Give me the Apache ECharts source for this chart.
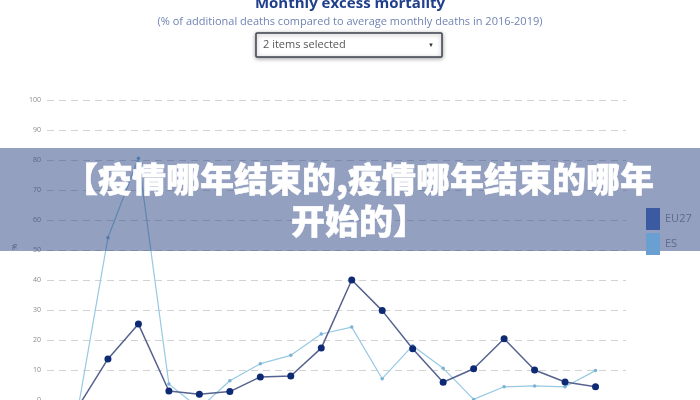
<!DOCTYPE html>
<html>
<head>
<meta charset="utf-8">
<script src="https://cdn.jsdelivr.net/npm/echarts@6/dist/echarts.min.js"></script>
<style>
html,body{margin:0;padding:0;background:#fff;}
#c{width:700px;height:400px;}
</style>
</head>
<body>
<div id="c"></div>
<script>
var months = ['Jan 2020','Feb 2020','Mar 2020','Apr 2020','May 2020','Jun 2020','Jul 2020','Aug 2020','Sep 2020','Oct 2020','Nov 2020','Dec 2020',
  'Jan 2021','Feb 2021','Mar 2021','Apr 2021','May 2021','Jun 2021','Jul 2021','Aug 2021'];
var eu27 = [-2.0, -2.6, 13.7, 25.3, 3.0, 1.9, 2.8, 7.7, 8.0, 17.3, 40.0, 29.8, 17.1, 5.9, 10.4, 20.4, 10.0, 6.0, 4.4];
var es = [-3.5, -4.0, 54.1, 80.6, 5.3, -2.8, 6.4, 12.1, 14.9, 22.0, 24.3, 7.1, 18.1, 10.6, 0.2, 4.4, 4.7, 4.4, 9.8];
var yTicks = [-10, 100, 10];
var titleText = 'Monthly excess mortality';
var subText = '(% of additional deaths compared to average monthly deaths in 2016-2019)';
var dropdownText = '2 items selected';
var bannerText = '【疫情哪年结束的,疫情哪年结束的哪年\n开始的】';

var chart = echarts.init(document.getElementById('c'), null, {renderer:'canvas'});
chart.setOption({
  animation: false,
  backgroundColor: '#ffffff',
  title: {
    text: titleText,
    subtext: subText,
    left: 'center',
    top: -4,
    padding: 0,
    itemGap: 3,
    textStyle: {fontFamily: 'Open Sans', fontWeight: 'bold', fontSize: 15, color: '#1f3f8c', lineHeight: 16},
    subtextStyle: {fontFamily: 'Open Sans', fontSize: 11, color: '#6f84b3', lineHeight: 14}
  },
  legend: {
    orient: 'vertical',
    left: 641,
    top: 203,
    icon: 'rect',
    itemWidth: 14,
    itemHeight: 22,
    itemGap: 3,
    z: 100,
    textStyle: {fontFamily: 'Open Sans', fontSize: 11, color: '#5f6a8d'},
    data: [
      {name: 'EU27', itemStyle: {color: '#3c5aa2'}},
      {name: 'ES', itemStyle: {color: '#6a9fd2'}}
    ]
  },
  grid: {left: 47, right: 74, top: 100, height: 330, outerBoundsMode: 'none', containLabel: false},
  xAxis: {
    type: 'category',
    data: months,
    boundaryGap: false,
    axisLine: {show: true, onZero: true, lineStyle: {color: '#c8c8c8'}},
    axisTick: {show: false},
    axisLabel: {show: false},
    splitLine: {show: false}
  },
  yAxis: {
    type: 'value',
    min: yTicks[0],
    max: yTicks[1],
    interval: yTicks[2],
    axisLine: {show: false},
    axisTick: {show: false},
    axisLabel: {fontSize: 7, color: '#8a8a8a', margin: 6, fontFamily: 'Open Sans'},
    splitLine: {show: true, lineStyle: {color: '#d2d2d2', type: [7, 5], width: 1}}
  },
  series: [
    {
      name: 'EU27', type: 'line', data: eu27,
      symbol: 'circle', symbolSize: 7,
      itemStyle: {color: '#0f2a75'},
      lineStyle: {color: '#56628f', width: 1.5},
      z: 3
    },
    {
      name: 'ES', type: 'line', data: es,
      symbol: 'circle', symbolSize: 3.5,
      itemStyle: {color: '#7ab2d6'},
      lineStyle: {color: '#97c9e3', width: 1.2},
      z: 2
    }
  ],
  graphic: [
    {type: 'text', left: 11, top: 244, rotation: Math.PI/2, z: 10,
     style: {text: '%', fontSize: 7, fill: '#777', fontFamily: 'Open Sans'}},
    {type: 'rect', shape: {x: 256, y: 33, width: 186, height: 24, r: 1}, z: 10,
     style: {fill: '#ffffff', stroke: '#3b4150', lineWidth: 1.5, shadowBlur: 4, shadowColor: 'rgba(0,0,0,0.35)', shadowOffsetY: 1}},
    {type: 'text', x: 263, y: 45, z: 11,
     style: {text: dropdownText, fontSize: 11, fill: '#555', fontFamily: 'Open Sans', verticalAlign: 'middle', textVerticalAlign: 'middle'}},
    {type: 'text', x: 431, y: 45, z: 11,
     style: {text: '▼', fontSize: 6, fill: '#333', align: 'center', verticalAlign: 'middle', textAlign: 'center', textVerticalAlign: 'middle'}},
    {type: 'rect', shape: {x: 0, y: 148, width: 700, height: 103}, z: 50,
     style: {fill: 'rgba(40,65,130,0.5)'}},
    {type: 'text', x: 359, y: 200, z: 60,
     style: {text: bannerText, fontSize: 34, fontWeight: 900, lineHeight: 42, fill: '#ffffff',
       stroke: '#ffffff', lineWidth: 0.5,
       fontFamily: 'Noto Sans CJK SC', align: 'center', verticalAlign: 'middle', textAlign: 'center', textVerticalAlign: 'middle'}}
  ]
});
</script>
</body>
</html>
